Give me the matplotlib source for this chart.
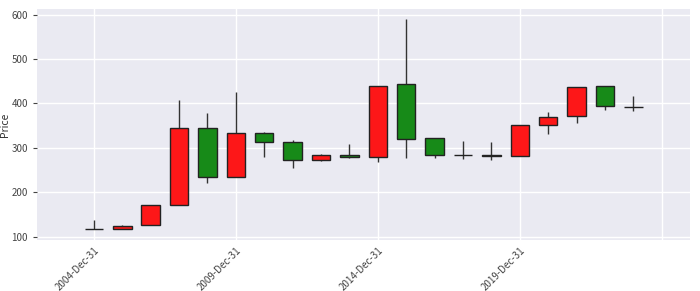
import matplotlib
matplotlib.use('Agg')
import matplotlib.pyplot as plt
import numpy as np

# yearly candles, 2004 .. 2023 (year-end dates)
years = list(range(2004, 2024))
opens  = [117, 118, 126, 171, 345, 234, 334, 313, 273, 285, 280, 443, 323, 284, 285, 281, 352, 371, 439, 392]
closes = [117, 125, 171, 345, 234, 334, 313, 272, 284, 280, 439, 321, 284, 284, 281, 351, 369, 437, 394, 392]
highs  = [138, 127, 171, 407, 378, 426, 337, 317, 287, 310, 439, 590, 323, 315, 313, 351, 381, 437, 439, 416]
lows   = [117, 118, 126, 171, 221, 234, 279, 255, 270, 278, 269, 277, 277, 275, 273, 281, 332, 356, 385, 383]
tick_labels = ['2004-Dec-31', '2009-Dec-31', '2014-Dec-31', '2019-Dec-31', '']

plt.rcParams['font.family'] = ['Noto Sans CJK SC', 'DejaVu Sans']

fig = plt.figure(figsize=(7, 2.91), dpi=100)
ax = fig.add_axes([0.053, 0.175, 0.933, 0.795])
ax.set_facecolor('#EAEAF2')
for s in ax.spines.values():
    s.set_visible(False)
ax.grid(True, color='white', linewidth=1.0)
ax.set_axisbelow(True)

x = np.arange(len(years))
o = np.array(opens)
c = np.array(closes)
up = c >= o
colors = ['#FD1718' if u else '#178A18' for u in up]

# wicks first, bodies on top
ax.vlines(x, lows, highs, color='#333333', linewidth=1.0, zorder=2)
bottoms = np.minimum(o, c)
heights = np.abs(c - o)
ax.bar(x, heights, bottom=bottoms, width=0.65, color=colors,
       edgecolor='#222222', linewidth=1.0, zorder=3)

ax.set_xlim(-2, 21)
ax.set_ylim(93, 613)
ax.set_yticks([100, 200, 300, 400, 500, 600])
ax.set_xticks([0, 5, 10, 15, 20])
ax.set_xticklabels(tick_labels, rotation=45, ha='right', rotation_mode='anchor')
ax.tick_params(axis='both', labelsize=7, colors='#444444', length=3, width=0.8)
ax.tick_params(axis='x', length=0)
ax.set_ylabel('Price', fontsize=7.5, color='#333333')
ax.yaxis.set_label_coords(-0.041, 0.5)

fig.savefig('out.png', dpi=100)
